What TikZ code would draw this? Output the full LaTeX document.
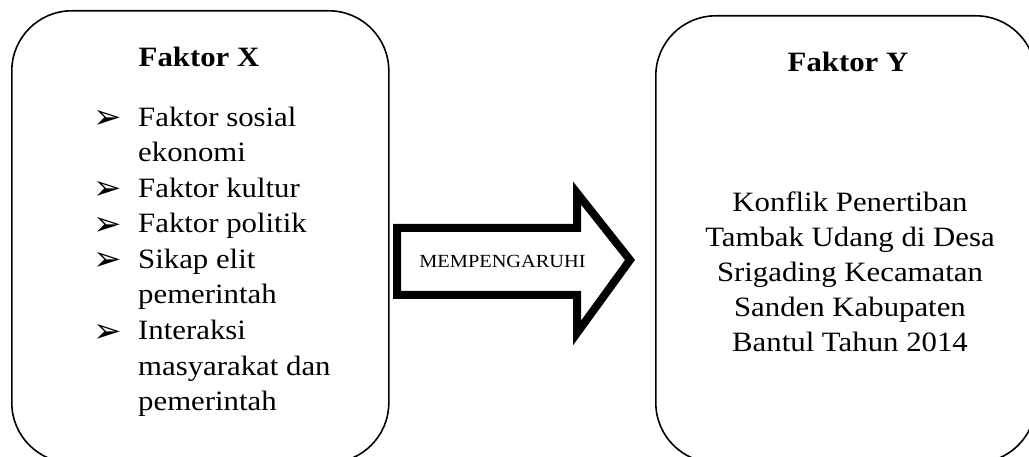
\documentclass[tikz,border=0pt]{standalone}
\usepackage{fontspec}
\setmainfont{Liberation Serif}[FakeStretch=1.1]
\newfontfamily\dingfont{DejaVu Sans}
\begin{document}
\begin{tikzpicture}[x=1pt,y=-1pt,
  box/.style={draw=black,line width=1.6pt,rounded corners=60pt,inner sep=0pt},
  ttl/.style={anchor=base,font=\fontsize{28}{34}\selectfont\bfseries,inner sep=0pt},
  itm/.style={anchor=base west,font=\fontsize{28}{34}\selectfont,inner sep=0pt},
  bul/.style={anchor=base west,font=\dingfont\fontsize{34}{40}\selectfont,inner sep=0pt},
  ctr/.style={anchor=base,font=\fontsize{28}{34}\selectfont,inner sep=0pt},
  arrowbody/.style={draw=black,line width=8pt,miter limit=10,fill=white},
  arrowtext/.style={anchor=base,font=\fontsize{18.5}{22}\selectfont,inner sep=0pt}
  ]
\useasboundingbox (0,0) rectangle (1029,457);
\clip (0,0) rectangle (1029,457);
\fill[white] (0,0) rectangle (1029,457);

% boxes
\node[box,minimum width=377pt,minimum height=452pt,anchor=north west] (X) at (11,10) {};
\node[box,minimum width=380pt,minimum height=447pt,anchor=north west] (Y) at (655,15) {};

% left box content
\node[ttl] (fx) at (199,67) {Faktor X};
\node[bul] (b1) at (93,129) {➢};
\node[itm] (l1) at (138,126.5) {Faktor sosial};
\node[itm] (l2) at (138,162) {ekonomi};
\node[bul] (b2) at (93,200) {➢};
\node[itm] (l3) at (138,197.5) {Faktor kultur};
\node[bul] (b3) at (93,235.5) {➢};
\node[itm] (l4) at (138,233) {Faktor politik};
\node[bul] (b4) at (93,271) {➢};
\node[itm] (l5) at (138,268.5) {Sikap elit};
\node[itm] (l6) at (138,304) {pemerintah};
\node[bul] (b5) at (93,342) {➢};
\node[itm] (l7) at (138,339.5) {Interaksi};
\node[itm] (l8) at (138,375) {masyarakat dan};
\node[itm] (l9) at (138,410.5) {pemerintah};

% right box content
\node[ttl] (fy) at (848,72) {Faktor Y};
\node[ctr] (r1) at (850,212) {Konflik Penertiban};
\node[ctr] (r2) at (850,247) {Tambak Udang di Desa};
\node[ctr] (r3) at (850,282) {Srigading Kecamatan};
\node[ctr] (r4) at (850,317) {Sanden Kabupaten};
\node[ctr] (r5) at (850,352) {Bantul Tahun 2014};

% block arrow
\draw[arrowbody] (397,228) -- (577,228) -- (577,193) -- (630,260) -- (577,333) -- (577,295) -- (397,295) -- cycle;
\node[arrowtext] (m) at (502.5,268) {MEMPENGARUHI};
\end{tikzpicture}
\end{document}
